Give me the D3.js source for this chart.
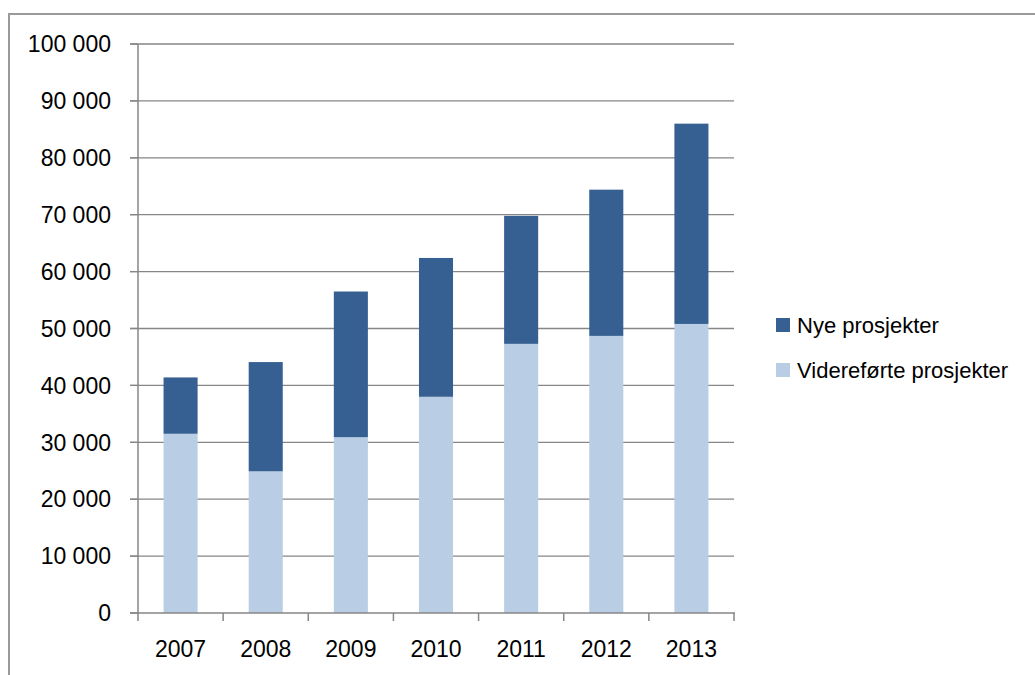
<!DOCTYPE html>
<html>
<head>
<meta charset="utf-8">
<script src="https://cdn.jsdelivr.net/npm/d3@7"></script>
<style>
  html, body { margin: 0; padding: 0; background: #fff; }
  svg { display: block; }
  text { font-family: "Liberation Sans", Arial, sans-serif; fill: #000; }
</style>
</head>
<body>
<svg id="chart" width="1035" height="675"></svg>
<script>
const years = ["2007", "2008", "2009", "2010", "2011", "2012", "2013"];
const videreforte = [31500, 24900, 30900, 38000, 47300, 48700, 50800];
const nye = [9900, 19200, 25600, 24400, 22500, 25700, 35200];
const yTicks = [0, 10000, 20000, 30000, 40000, 50000, 60000, 70000, 80000, 90000, 100000];
const seriesNames = ["Nye prosjekter", "Videreførte prosjekter"];
const seriesColors = ["#366092", "#B9CDE5"];

(function () {
const svg = d3.select("#chart");
const axisFont = 23;
const legendFont = 22;

// outer frame (top and left edges visible)
svg.append("path")
  .attr("d", "M9,675 L9,14 L1035,14")
  .attr("fill", "none")
  .attr("stroke", "#9a9a9a")
  .attr("stroke-width", 2);

const pL = 138, pR = 734, pT = 44, pB = 613;

const x = d3.scaleBand().domain(years).range([pL, pR]).paddingInner(0.6).paddingOuter(0.3);
const xTickScale = d3.scaleBand().domain(years).range([pL, pR]).padding(0);
const y = d3.scaleLinear().domain([0, 100000]).range([pB, pT]);

const fmt = v => d3.format(",")(v).replace(/,/g, " ");

// gridlines
svg.append("g").selectAll("line").data(yTicks.filter(d => d > 0)).join("line")
  .attr("x1", pL - 8).attr("x2", pR)
  .attr("y1", d => y(d)).attr("y2", d => y(d))
  .attr("stroke", "#868686").attr("stroke-width", 1.3);

// stacked bars
const rows = years.map((yr, i) => ({ year: yr, "Videreførte prosjekter": videreforte[i], "Nye prosjekter": nye[i] }));
const stack = d3.stack().keys(["Videreførte prosjekter", "Nye prosjekter"]);
const stacked = stack(rows);
const colorOf = k => seriesColors[seriesNames.indexOf(k)];

svg.append("g").selectAll("g").data(stacked).join("g")
  .attr("fill", s => colorOf(s.key))
  .selectAll("rect").data(s => s).join("rect")
  .attr("x", d => x(d.data.year))
  .attr("width", x.bandwidth())
  .attr("y", d => y(d[1]))
  .attr("height", d => y(d[0]) - y(d[1]));

// y axis line
svg.append("line")
  .attr("x1", pL).attr("x2", pL).attr("y1", pT).attr("y2", pB)
  .attr("stroke", "#868686").attr("stroke-width", 1.5);
// y tick marks
svg.append("g").selectAll("line").data(yTicks).join("line")
  .attr("x1", pL - 8).attr("x2", pL)
  .attr("y1", d => y(d)).attr("y2", d => y(d))
  .attr("stroke", "#868686").attr("stroke-width", 1.3);
// y labels
svg.append("g").selectAll("text").data(yTicks).join("text")
  .attr("x", 111).attr("y", d => y(d))
  .attr("dy", "0.36em")
  .attr("text-anchor", "end")
  .style("font-size", axisFont + "px")
  .text(d => fmt(d));

// x axis
svg.append("line")
  .attr("x1", pL - 8).attr("x2", pR + 1).attr("y1", pB).attr("y2", pB)
  .attr("stroke", "#868686").attr("stroke-width", 1.5);
const boundaries = years.map(yr => xTickScale(yr)).concat([pR]);
svg.append("g").selectAll("line").data(boundaries).join("line")
  .attr("x1", d => d).attr("x2", d => d)
  .attr("y1", pB).attr("y2", pB + 8)
  .attr("stroke", "#868686").attr("stroke-width", 1.5);
svg.append("g").selectAll("text").data(years).join("text")
  .attr("x", d => xTickScale(d) + xTickScale.bandwidth() / 2)
  .attr("y", 657)
  .attr("text-anchor", "middle")
  .style("font-size", axisFont + "px")
  .text(d => d);

// legend
const legend = svg.append("g").selectAll("g").data(seriesNames).join("g")
  .attr("transform", (d, i) => `translate(776, ${318 + i * 45})`);
legend.append("rect")
  .attr("width", 14).attr("height", 14)
  .attr("fill", d => colorOf(d));
legend.append("text")
  .attr("x", 21).attr("y", 14.5)
  .style("font-size", legendFont + "px")
  .text(d => d);
})();
</script>
</body>
</html>
